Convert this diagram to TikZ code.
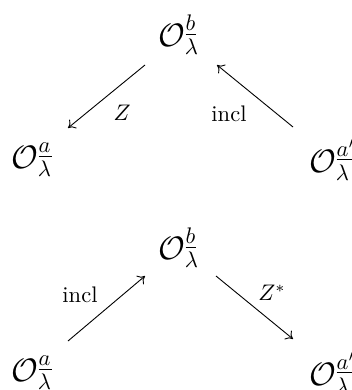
\documentclass[tikz,border=0pt]{standalone}
\usetikzlibrary{arrows.meta}
\begin{document}
\begin{tikzpicture}[x=0.444pt,y=-0.444pt,
  obj/.style={inner sep=0pt,outer sep=0pt,font=\Large},
  lab/.style={inner sep=0pt},
  map/.style={-{Computer Modern Rightarrow[length=3pt,width=5pt]},line width=0.4pt}]
\useasboundingbox (0,0) rectangle (352,390);
% first diagram
\node[obj] (t1) at (179,35) {$\mathcal{O}^{\underline{b}}_{\lambda}$};
\node[obj] (l1) at (32,160) {$\mathcal{O}^{\underline{a}}_{\lambda}$};
\node[obj] (r1) at (333,160) {$\mathcal{O}^{\underline{a'}}_{\lambda}$};
\coordinate (a1s) at (145,65);
\coordinate (a1e) at (68,128);
\coordinate (b1s) at (293,127);
\coordinate (b1e) at (217,65);
\draw[map] (a1s) -- (a1e);
\draw[map] (b1s) -- (b1e);
\node[lab] (z1) at (122,113) {$Z$};
\node[lab] (i1) at (229,114) {incl};
% second diagram
\node[obj] (t2) at (179,248) {$\mathcal{O}^{\underline{b}}_{\lambda}$};
\node[obj] (l2) at (32,373) {$\mathcal{O}^{\underline{a}}_{\lambda}$};
\node[obj] (r2) at (333,373) {$\mathcal{O}^{\underline{a'}}_{\lambda}$};
\coordinate (a2s) at (68,341);
\coordinate (a2e) at (145,276);
\coordinate (b2s) at (216,276);
\coordinate (b2e) at (293,339);
\draw[map] (a2s) -- (a2e);
\draw[map] (b2s) -- (b2e);
\node[lab] (i2) at (80,295) {incl};
\node[lab] (z2) at (272,293) {$Z^{*}$};
\end{tikzpicture}
\end{document}
